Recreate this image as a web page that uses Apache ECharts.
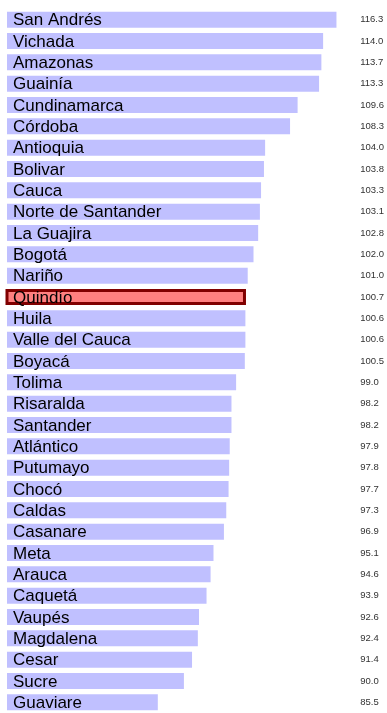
<!DOCTYPE html>
<html>
<head>
<meta charset="utf-8">
<script src="https://cdn.jsdelivr.net/npm/echarts@6/dist/echarts.min.js"></script>
<style>
  html, body { margin: 0; padding: 0; background: #fff; }
  #chart { width: 387px; height: 713px; }
</style>
</head>
<body>
<div id="chart"></div>
<script>
// Departments, ordered from highest to lowest value
const departments = [
  'San Andrés', 'Vichada', 'Amazonas', 'Guainía', 'Cundinamarca', 'Córdoba',
  'Antioquia', 'Bolivar', 'Cauca', 'Norte de Santander', 'La Guajira', 'Bogotá',
  'Nariño', 'Quindío', 'Huila', 'Valle del Cauca', 'Boyacá', 'Tolima',
  'Risaralda', 'Santander', 'Atlántico', 'Putumayo', 'Chocó', 'Caldas',
  'Casanare', 'Meta', 'Arauca', 'Caquetá', 'Vaupés', 'Magdalena', 'Cesar',
  'Sucre', 'Guaviare'
];
const values = [
  116.3, 114.0, 113.7, 113.3, 109.6, 108.3,
  104.0, 103.8, 103.3, 103.1, 102.8, 102.0,
  101.0, 100.7, 100.6, 100.6, 100.5, 99.0,
  98.2, 98.2, 97.9, 97.8, 97.7, 97.3,
  96.9, 95.1, 94.6, 93.9, 92.6, 92.4, 91.4,
  90.0, 85.5
];
// Department shown highlighted
const highlighted = 'Quindío';

const valueLabels = values.map(v => v.toFixed(1));

const barData = departments.map((name, i) => {
  if (name === highlighted) {
    return {
      value: values[i],
      itemStyle: { color: '#ff8080', borderColor: '#800000', borderWidth: 3 },
      label: { distance: 7.5 }
    };
  }
  return { value: values[i] };
});

const chart = echarts.init(document.getElementById('chart'), null, { renderer: 'canvas' });
chart.setOption({
  animation: false,
  backgroundColor: '#ffffff',
  grid: { left: 7, top: 8.96, width: 345.4, height: 708.8, containLabel: false },
  xAxis: {
    type: 'value',
    min: 59.5,
    max: 118.5,
    show: false
  },
  yAxis: [
    {
      type: 'category',
      data: departments,
      inverse: true,
      show: false
    },
    {
      type: 'category',
      data: valueLabels,
      inverse: true,
      position: 'right',
      axisLine: { show: false },
      axisTick: { show: false },
      splitLine: { show: false },
      axisLabel: {
        show: true,
        margin: 11,
        align: 'left',
        color: '#333333',
        fontFamily: 'Liberation Sans, Arial, sans-serif',
        fontSize: 9.5
      }
    }
  ],
  series: [
    {
      type: 'bar',
      yAxisIndex: 0,
      data: barData,
      barWidth: 16,
      itemStyle: { color: '#c0c0ff' },
      label: {
        show: true,
        position: 'insideLeft',
        distance: 6,
        formatter: '{b}',
        color: '#000000',
        fontFamily: 'Liberation Sans, Arial, sans-serif',
        fontSize: 17,
        offset: [0, 1]
      }
    }
  ]
});
</script>
</body>
</html>
